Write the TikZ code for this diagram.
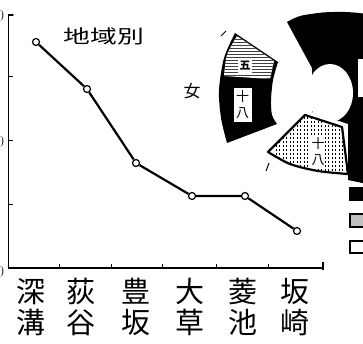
\documentclass[tikz,border=0pt]{standalone}
\usepackage{fontspec}
\usepackage{graphicx}
\newfontfamily\jp{Noto Sans CJK JP}
\begin{document}
\begin{tikzpicture}[x=1pt,y=-1pt,
  axis/.style={line width=1.4pt, line cap=round},
  dataline/.style={line width=2.2pt},
  dot/.style={circle,draw,fill=white,inner sep=0pt,minimum size=7pt,line width=1.2pt},
  place/.style={font=\jp\fontsize{29}{31}\selectfont, align=center, inner sep=0pt},
  ylab/.style={font=\fontsize{15}{15}\selectfont, inner sep=0pt},
  smalljp/.style={font=\jp\fontsize{13}{13}\selectfont, inner sep=0pt},
  outline/.style={draw=black, line width=2.2pt, line join=round},
  hatchv/.style={line width=0.8pt, dash pattern=on 2.5pt off 1.5pt},
  hatchh/.style={line width=0.8pt, black!75}
]
\useasboundingbox (0,0) rectangle (363,344);
\fill[white] (0,0) rectangle (363,344);

% ---------- axes ----------
\coordinate (ytop) at (8.5,15);
\coordinate (orig) at (8.5,268);
\coordinate (xend) at (323,268);
\draw[axis] (13,15) -- (ytop) -- (orig) -- (xend);
\foreach \yy in {77,141,205} \draw[line width=1pt] (8.5,\yy) -- (13,\yy);
\foreach \xx in {59,111,162,216,268} \draw[line width=1pt] (\xx,268) -- (\xx,264);
\draw[line width=1.2pt] (323,262) -- (323,270);
\node[ylab] (y3) at (0.5,16) {0};
\node[ylab] (y2) at (0.5,142) {0};
\node[ylab] (y1) at (0.5,272) {0};

% ---------- line chart ----------
\node[dot] (p1) at (36,42) {};
\node[dot] (p2) at (87,89) {};
\node[dot] (p3) at (136,163) {};
\node[dot] (p4) at (192,196) {};
\node[dot] (p5) at (245,196) {};
\node[dot] (p6) at (297,231) {};
\draw[dataline] (p1) -- (p2) -- (p3) -- (p4) -- (p5) -- (p6);

% ---------- labels ----------
\node (title) at (104,36) {\scalebox{1.22}[0.85]{\jp\fontsize{22}{22}\selectfont 地域別}};
\node[place] (l1) at (31,307) {深\\溝};
\node[place] (l2) at (81,307) {荻\\谷};
\node[place] (l3) at (136,307) {豊\\坂};
\node[place] (l4) at (190,307) {大\\草};
\node[place] (l5) at (243,307) {菱\\池};
\node[place] (l6) at (295,307) {坂\\崎};
\node[font=\jp\fontsize{17}{17}\selectfont, inner sep=0pt] (onna) at (192,91) {女};

% ---------- main ring ----------
\fill[black] (287,22) -- plot[smooth] coordinates {(287,22) (300,16) (323,12.5) (345,12) (363,13.5) (372,16)}
  -- (372,185) -- (348,180) -- (348,124) -- (312,112) -- (312,68) -- cycle;
\fill[white] (330,93) ellipse[x radius=23, y radius=29];
\draw[fill=white, line width=0.8pt] (357,58) rectangle (368,97);

% bottom hatched sector
\begin{scope}
  \clip (305,115) -- (342,127) -- (348,174) -- plot[smooth] coordinates {(348,174) (318,171) (290,164) (268,152)} -- cycle;
  \fill[white] (260,100) rectangle (360,190);
  \foreach \xx in {276,279.5,...,350} \draw[hatchv] (\xx,105) -- (\xx,185);
\end{scope}
\draw[outline] (305,115) -- (342,127) -- (348,174) -- plot[smooth] coordinates {(348,174) (318,171) (290,164) (268,152)} -- cycle;
\fill[white] (311,136) rectangle (325,168);
\node[smalljp] (b10) at (318,144) {十};
\node[smalljp] (b8) at (318,160) {八};

% exploded left sector
\fill[black] (235,33) -- (278,62) -- plot[smooth] coordinates {(278,62) (273,80) (271,100) (272,115) (277,124)}
  -- (227,143) -- plot[smooth] coordinates {(227,143) (221,118) (219,90) (224,58) (235,33)} -- cycle;
\begin{scope}
  \clip (237,36) -- (274,61) -- (270,79) -- (224,76) -- plot[smooth] coordinates {(224,76) (227,55) (237,36)} -- cycle;
  \fill[white] (215,25) rectangle (285,90);
  \foreach \yy in {36,39,...,80} \draw[hatchh] (215,\yy) -- (285,\yy);
\end{scope}
\fill[white] (238,59) rectangle (252,73);
\node[font=\jp\fontsize{11}{11}\selectfont\bfseries, inner sep=0pt] (five) at (245,66) {五};
\draw[fill=white, line width=0.8pt] (233,87) rectangle (252,122);
\node[smalljp] (l10) at (242.5,97) {十};
\node[smalljp] (l8) at (242.5,113) {八};

% small marks
\draw[line width=1pt] (221,36) -- (226,31);
\draw[line width=1pt] (266,171) -- (269,163);

% ---------- legend ----------
\fill[black] (349,187) rectangle (370,201);
\draw[line width=2.2pt, fill=black!25] (350,214) rectangle (370,227);
\draw[line width=2.2pt, fill=white] (350,241) rectangle (370,253);
\end{tikzpicture}
\end{document}
